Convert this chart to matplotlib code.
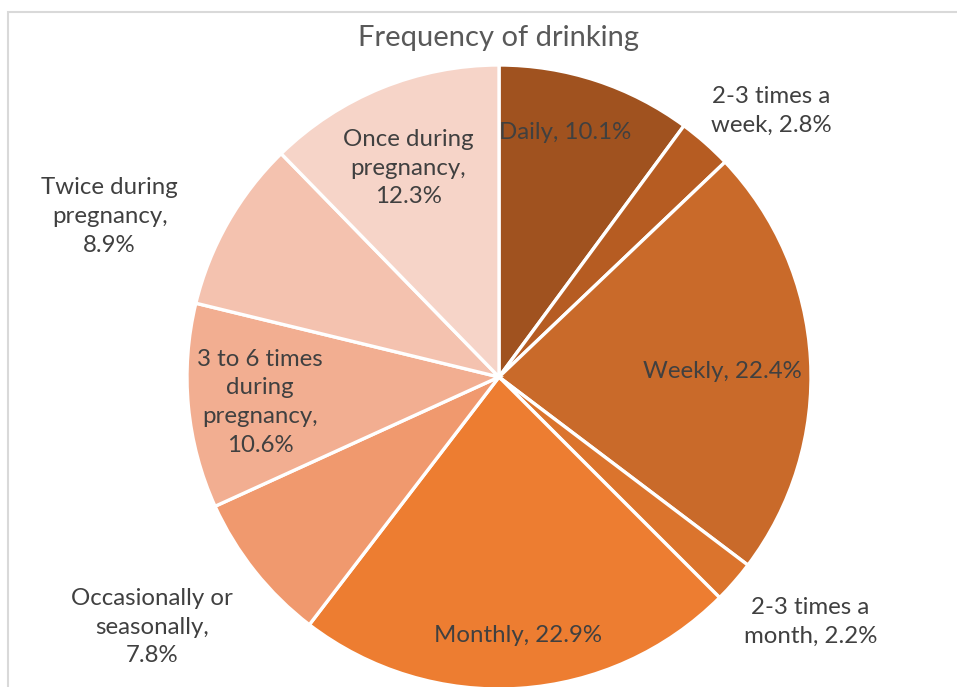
import numpy as np
import matplotlib
matplotlib.use("Agg")
import matplotlib.pyplot as plt
from matplotlib.patches import Rectangle

plt.rcParams['font.family'] = ['Lato', 'DejaVu Sans']

# Drinking frequency shares (%), clockwise from 12 o'clock
categories = [
    "Daily",
    "2-3 times a\nweek",
    "Weekly",
    "2-3 times a\nmonth",
    "Monthly",
    "Occasionally or\nseasonally,",
    "3 to 6 times\nduring\npregnancy,",
    "Twice during\npregnancy,",
    "Once during\npregnancy,",
]
shares = [10.1, 2.8, 22.4, 2.2, 22.9, 7.8, 10.6, 8.9, 12.3]

colors = ["#A0521F", "#B65C22", "#C96A2A", "#DB742D", "#ED7D31",
          "#F0996E", "#F2AE91", "#F4C2AF", "#F6D4C8"]

# label placement: radial distance (fraction of radius) and angular nudge (deg)
label_r = [0.81, 1.22, 0.715, 1.27, 0.83, 1.37, 0.77, 1.35, 0.73]
label_nudge = [3.1, -4.2, -1.9, 2.8, 0.4, -2.7, 0.6, 7.3, 1.4]
# joiner between category and value
joiners = [", ", ", ", ", ", ", ", ", ", "\n", "\n", "\n", "\n"]

W, H = 957, 687
fig = plt.figure(figsize=(W / 100, H / 100), dpi=100)
fig.patch.set_facecolor("white")

# light frame around the chart area
fig.add_artist(Rectangle((8 / W, -0.05), 1.2, (H - 12) / H + 0.05,
                         transform=fig.transFigure, fill=False,
                         edgecolor="#D9D9D9", linewidth=1.5))

cx, cy, r = 499, 377, 312
ax = fig.add_axes([(cx - r) / W, (H - cy - r) / H, 2 * r / W, 2 * r / H])

wedges, _ = ax.pie(shares, colors=colors, startangle=90, counterclock=False,
                   radius=1.0, center=(0, 0), frame=False,
                   wedgeprops=dict(edgecolor="white", linewidth=2.4))
ax.set_xlim(-1, 1)
ax.set_ylim(-1, 1)
ax.set_aspect("equal")
ax.axis("off")
for w in wedges:
    w.set_clip_on(False)

for w, cat, val, rr, nd, j in zip(wedges, categories, shares, label_r,
                                  label_nudge, joiners):
    mid = np.deg2rad((w.theta1 + w.theta2) / 2 + nd)
    x, y = rr * np.cos(mid), rr * np.sin(mid)
    txt = f"{cat}{j}{val:.1f}%"
    ax.text(x, y, txt, ha="center", va="center", fontsize=17.3,
            color="#404040", linespacing=1.45, clip_on=False)

fig.text(cx / W, 1 - 38 / H, "Frequency of drinking", ha="center",
         va="center", fontsize=21, color="#595959")

fig.savefig("out.png", dpi=100, facecolor="white")
